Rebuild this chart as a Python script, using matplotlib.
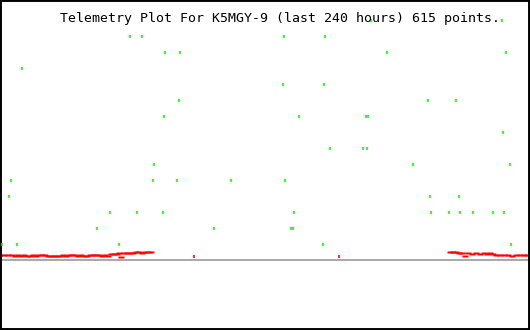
import matplotlib
matplotlib.use("Agg")
import matplotlib.pyplot as plt

title = "Telemetry Plot For K5MGY-9 (last 240 hours) 615 points."

# green telemetry samples: hours, level
green_hours = [168.0, 227.3,
               58.9, 64.3, 128.6, 147.2,
               74.7, 81.5, 175.2, 229.1,
               10.0,
               128.2, 146.7,
               81.1, 193.8, 206.5,
               74.3, 135.4, 165.7, 166.6,
               227.8,
               149.4, 164.4, 166.2,
               69.7, 187.0, 230.9,
               5.0, 69.3, 80.2, 104.6, 129.1,
               4.1, 194.7, 207.8,
               49.8, 62.0, 73.8, 133.1, 195.2, 203.3, 208.3, 214.2, 223.2, 228.2,
               43.9, 96.9, 131.8, 132.7,
               0.9, 7.7, 53.9, 146.3, 231.4]
green_vals = [15, 15,
              14, 14, 14, 14,
              13, 13, 13, 13,
              12,
              11, 11,
              10, 10, 10,
              9, 9, 9, 9,
              8,
              7, 7, 7,
              6, 6, 6,
              5, 5, 5, 5, 5,
              4, 4, 4,
              3, 3, 3, 3, 3, 3, 3, 3, 3, 3,
              2, 2, 2, 2,
              1, 1, 1, 1, 1]

# red telemetry samples
red_hours = [0.0, 1.8, 3.6, 5.4, 6.8, 8.2, 9.5, 10.9, 12.2, 13.6, 14.9, 16.3, 17.7,
             19.0, 20.4, 21.7, 23.1, 24.5, 25.8, 27.2, 28.5, 29.9, 31.2, 32.6, 34.0,
             35.3, 36.7, 38.0, 39.4, 40.8, 42.1, 43.5, 44.8, 46.2, 47.5, 48.9, 50.3,
             51.6, 53.0, 53.9, 54.8, 56.2, 57.5, 58.9, 60.2, 61.6, 62.9, 64.3, 65.7,
             67.0, 68.4,
             203.8, 205.1, 206.5, 207.8, 209.2, 210.6, 211.9, 213.7, 215.5, 217.4,
             219.2, 220.5, 221.9, 223.2, 224.6, 226.4, 228.2, 230.0, 231.8, 233.7,
             235.5, 237.3, 238.6]
red_vals = [0.34, 0.34, 0.34, 0.34, 0.28, 0.34, 0.28, 0.34, 0.28, 0.28, 0.34, 0.28, 0.34,
            0.34, 0.34, 0.28, 0.28, 0.28, 0.28, 0.28, 0.34, 0.28, 0.34, 0.34, 0.34,
            0.28, 0.34, 0.28, 0.28, 0.34, 0.34, 0.34, 0.34, 0.28, 0.34, 0.28, 0.41,
            0.41, 0.41, 0.47, 0.22, 0.47, 0.47, 0.47, 0.47, 0.53, 0.53, 0.47, 0.53,
            0.53, 0.53,
            0.56, 0.56, 0.53, 0.47, 0.47, 0.28, 0.47, 0.41, 0.47, 0.41,
            0.47, 0.41, 0.47, 0.41, 0.34, 0.34, 0.34, 0.34, 0.28, 0.34,
            0.34, 0.34, 0.34]
# isolated red samples
red_single_hours = [87.8, 153.5]
red_single_vals = [0.25, 0.25]

DPI = 100
fig = plt.figure(figsize=(5.3, 3.3), dpi=DPI)
ax = fig.add_axes([0, 0, 1, 1])
ax.set_xlim(0, 240)
ax.set_ylim(-4.344, 16.281)
ax.set_xticks([])
ax.set_yticks([])
for s in ax.spines.values():
    s.set_linewidth(2.8)
    s.set_color("black")

px = 72 / DPI
wide_box = [(-1, -0.5), (1, -0.5), (1, 0.5), (-1, 0.5), (-1, -0.5)]
ax.axhline(0, color="#aaaaaa", lw=2 * px, zorder=1)
ax.plot(red_hours, red_vals, linestyle="none", marker=wide_box, ms=5.6 * px,
        mfc="#ff0000", mec="none", antialiased=False, zorder=2)
ax.plot(red_single_hours, red_single_vals, linestyle="none", marker="|",
        ms=3 * px, mew=1.6 * px, color="#ff0000", antialiased=False, zorder=2)
ax.plot(green_hours, green_vals, linestyle="none", marker="|", ms=3 * px,
        mew=1.6 * px, color="#00ff00", antialiased=False, zorder=3)

fig.text(60 / 530, 1 - 22 / 330, title, family="DejaVu Sans Mono",
         fontsize=9.55, color="black", ha="left", va="baseline")

fig.savefig("out.png", dpi=DPI)
